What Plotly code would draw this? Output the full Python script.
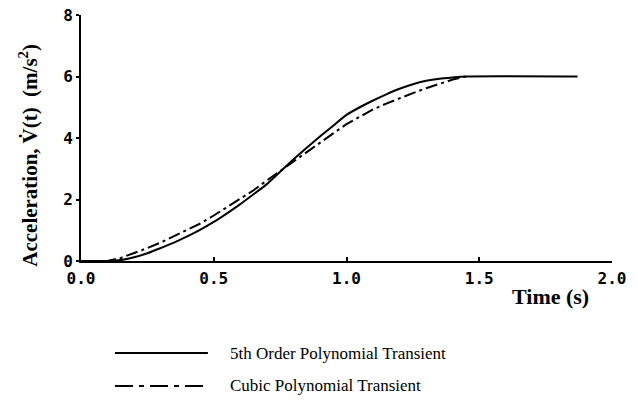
import plotly.graph_objects as go

# Time (s)
t_quintic = [0.0, 0.10, 0.15, 0.20, 0.25, 0.30, 0.35, 0.40, 0.45, 0.50, 0.55, 0.60,
             0.65, 0.70, 0.75, 0.80, 0.85, 0.90, 0.95, 1.00, 1.05, 1.10, 1.15, 1.20,
             1.25, 1.30, 1.35, 1.40, 1.45, 1.87]
a_quintic = [0.0, 0.0, 0.03, 0.12, 0.25, 0.42, 0.60, 0.80, 1.02, 1.27, 1.55, 1.85,
             2.17, 2.50, 2.90, 3.30, 3.68, 4.05, 4.40, 4.75, 5.00, 5.22, 5.42, 5.60,
             5.75, 5.86, 5.93, 5.97, 6.00, 6.00]

t_cubic = [0.0, 0.10, 0.15, 0.20, 0.25, 0.30, 0.35, 0.40, 0.45, 0.50, 0.55, 0.60,
           0.65, 0.70, 0.75, 0.80, 0.85, 0.90, 0.95, 1.00, 1.05, 1.10, 1.15, 1.20,
           1.25, 1.30, 1.35, 1.40, 1.45]
a_cubic = [0.0, 0.0, 0.10, 0.25, 0.42, 0.60, 0.80, 1.00, 1.22, 1.48, 1.75, 2.03,
           2.30, 2.62, 2.93, 3.22, 3.55, 3.85, 4.15, 4.45, 4.70, 4.93, 5.12, 5.30,
           5.46, 5.62, 5.76, 5.90, 6.00]

x_ticks = [0.0, 0.5, 1.0, 1.5, 2.0]
x_tick_labels = ["0.0", "0.5", "1.0", "1.5", "2.0"]
y_ticks = [0, 2, 4, 6, 8]
y_tick_labels = ["0", "2", "4", "6", "8"]

series_names = ["5th Order Polynomial Transient", "Cubic Polynomial Transient"]

CUBIC_DASH = "12px,4px,3px,4px"
LEG_DASH = "18px,6px,5px,6px"

fig = go.Figure()
fig.add_trace(go.Scatter(x=t_quintic, y=a_quintic, mode="lines",
                         line=dict(color="black", width=2, shape="spline", smoothing=0.6),
                         name=series_names[0], showlegend=False))
fig.add_trace(go.Scatter(x=t_cubic, y=a_cubic, mode="lines",
                         line=dict(color="black", width=2, dash=CUBIC_DASH),
                         name=series_names[1], showlegend=False))

tickfont = dict(family="DejaVu Sans Mono", size=16, color="black", weight="bold")
fig.update_xaxes(range=[0, 2], tickvals=x_ticks, ticktext=x_tick_labels,
                 showline=True, linecolor="black", linewidth=2, showgrid=False,
                 zeroline=False, ticks="inside", ticklen=4, tickwidth=2,
                 tickcolor="black", tickfont=tickfont, automargin=False,
                 ticklabelstandoff=2)
fig.update_yaxes(range=[0, 8], tickvals=y_ticks, ticktext=y_tick_labels,
                 showline=True, linecolor="black", linewidth=2, showgrid=False,
                 zeroline=False, ticks="outside", ticklen=3, tickwidth=2,
                 tickcolor="black", tickfont=tickfont, automargin=False)

ann = []
ann.append(dict(text="Acceleration, V\u0307(t)  (m/s<sup>2</sup>)", textangle=-90,
                xref="paper", yref="paper", x=-0.128, y=0.43, showarrow=False,
                font=dict(family="Liberation Serif", size=21, color="black", weight="bold")))
ann.append(dict(text="Time (s)", xref="paper", yref="paper", x=0.885, y=-0.146,
                xanchor="center", yanchor="middle", showarrow=False,
                font=dict(family="Liberation Serif", size=22, color="black", weight="bold")))
legend_y = [-0.374, -0.508]
for name, ly in zip(series_names, legend_y):
    ann.append(dict(text=name, xref="paper", yref="paper", x=0.277, y=ly,
                    xanchor="left", yanchor="middle", showarrow=False,
                    font=dict(family="Liberation Serif", size=17, color="black")))

shapes = [
    dict(type="line", xref="paper", yref="paper", x0=0.064, x1=0.239,
         y0=legend_y[0], y1=legend_y[0], line=dict(color="black", width=2)),
    dict(type="line", xref="paper", yref="paper", x0=0.064, x1=0.239,
         y0=legend_y[1], y1=legend_y[1], line=dict(color="black", width=2, dash=LEG_DASH)),
]

fig.update_layout(width=638, height=407, margin=dict(l=81, r=26, t=15, b=146),
                  paper_bgcolor="white", plot_bgcolor="white",
                  annotations=ann, shapes=shapes, showlegend=False)

# remove the browser's default 8px page margin so the figure fills the window
fig.write_html("out.html", config={"displayModeBar": False},
               post_script="document.body.style.margin='0';")
